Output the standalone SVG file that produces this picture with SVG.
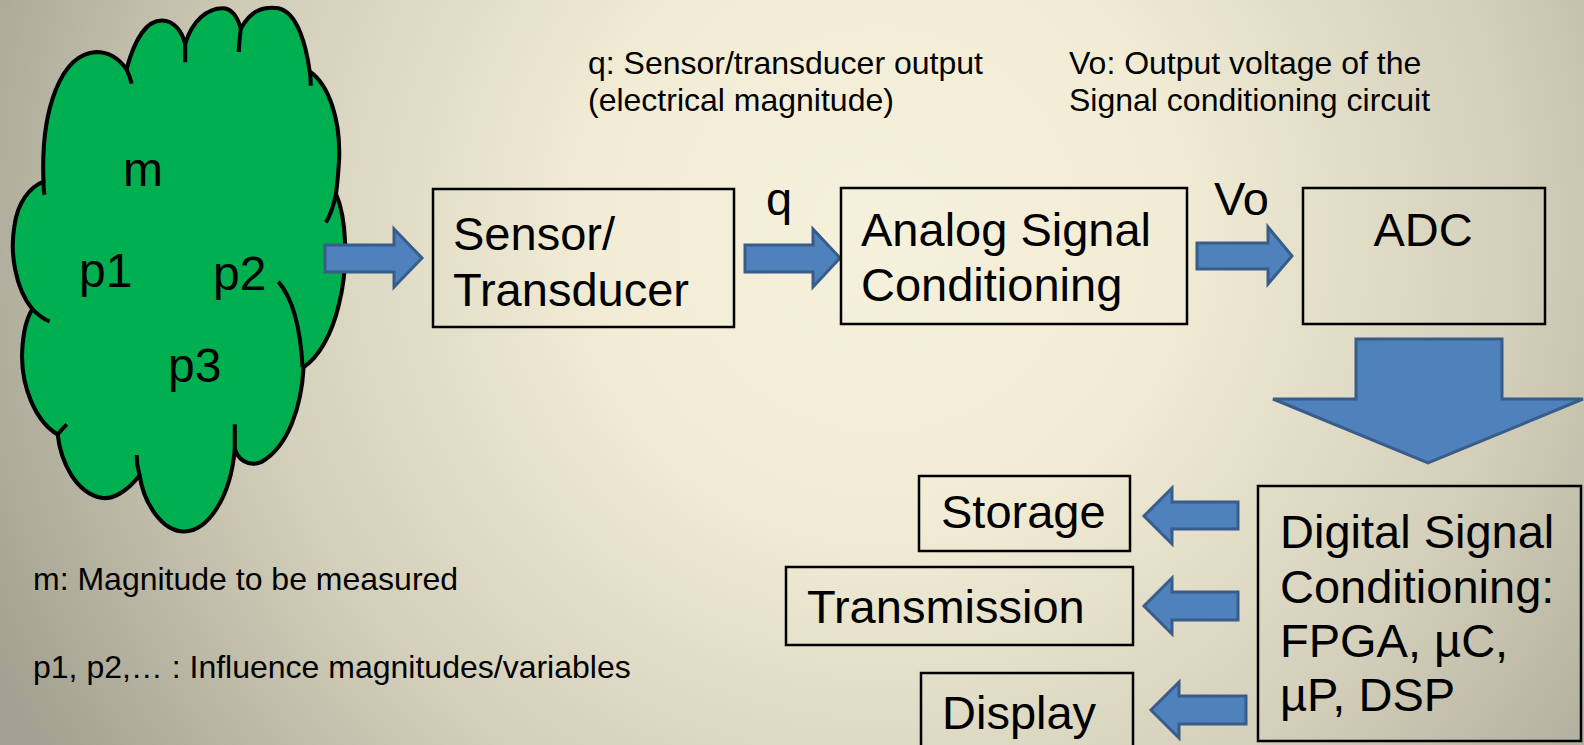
<svg xmlns="http://www.w3.org/2000/svg" width="1584" height="745" viewBox="0 0 1584 745">
<defs>
<radialGradient id="bg" gradientUnits="userSpaceOnUse" cx="880" cy="230" r="980">
<stop offset="0" stop-color="#f6f1dc"/>
<stop offset="0.3" stop-color="#f2ecd5"/>
<stop offset="0.65" stop-color="#d3cfba"/>
<stop offset="1" stop-color="#a3a191"/>
</radialGradient>
<style>
.t{font-family:"Liberation Sans",Arial,sans-serif;fill:#000}
.big{font-size:47px}
.cbig{font-size:48px}
.sm{font-size:32px}
.box{fill:none;stroke:#000;stroke-width:2.5}
.arr{fill:#4f81bd;stroke:#385d8a;stroke-width:3;stroke-linejoin:miter}
.cl{fill:#00b050;stroke:#000;stroke-width:4;stroke-linejoin:round}
.tail{fill:none;stroke:#000;stroke-width:4;stroke-linecap:butt}
</style>
</defs>
<rect x="0" y="0" width="1584" height="745" fill="url(#bg)"/>

<g id="cloud">
<g transform="matrix(1.012,0,0,1.02,0,-2)">
<path class="cl" d="M43,180 C40,110 60,55 95,53 C108,53 118,60 125,70 C133,40 145,22 160,22 C172,22 180,33 183,45 C190,22 205,10 220,10 C230,10 235,20 238,30 C248,12 260,8 275,10 C295,14 303,50 306,72 C325,85 337,120 335,160 C334,175 333,185 332,192 C342,215 345,260 335,300 C328,330 315,352 300,362 C298,400 285,440 258,455 C245,460 235,452 232,442 C228,490 205,523 182,523 C160,523 142,495 138,468 C125,485 110,492 100,490 C75,485 60,455 57,428 C35,415 20,380 22,345 C23,325 27,313 32,305 C15,285 10,250 14,225 C17,200 30,185 43,180 Z"/>
<path class="tail" d="M43,180 C43,185 43,189 44,193"/>
<path class="tail" d="M125,70 C127,74 129,79 130,84"/>
<path class="tail" d="M183,45 C183,51 183,57 183,63"/>
<path class="tail" d="M238,30 C237,38 236,46 236,53"/>
<path class="tail" d="M306,72 C307,76 307,81 307,86"/>
<path class="tail" d="M332,192 C330,202 327,212 322,220"/>
<path class="tail" d="M275,278 C290,295 297,325 299,362"/>
<path class="tail" d="M232,442 C232,434 232,426 232,418"/>
<path class="tail" d="M138,468 C136,461 135,455 135,448"/>
<path class="tail" d="M57,428 C60,424 63,421 66,418"/>
<path class="tail" d="M32,305 C38,311 43,315 49,317"/>
</g>
<text class="t cbig" x="123" y="186">m</text>
<text class="t cbig" x="79" y="287">p1</text>
<text class="t cbig" x="213" y="290">p2</text>
<text class="t cbig" x="168" y="382">p3</text>
</g>

<g id="connectors">
<polygon class="arr" points="325,245 394,245 394,229 422,258 394,287 394,272 325,272"/>
<polygon class="arr" points="745,245 813,245 813,229 840,258 813,287 813,272 745,272"/>
<polygon class="arr" points="1197,243 1268,243 1268,227 1292,256 1268,284 1268,269 1197,269"/>
<polygon class="arr" points="1356,339 1502,339 1502,399 1583,399 1428,463 1273,399 1356,399"/>
<polygon class="arr" points="1238,502 1172,502 1172,488 1144,516 1172,544 1172,529 1238,529"/>
<polygon class="arr" points="1238,592 1172,592 1172,578 1144,606 1172,634 1172,620 1238,620"/>
<polygon class="arr" points="1246,696 1179,696 1179,682 1151,710 1179,738 1179,724 1246,724"/>
<text class="t big" x="766" y="215">q</text>
<text class="t big" x="1214" y="215">Vo</text>
</g>

<g id="sensor">
<rect class="box" x="433" y="189" width="301" height="138"/>
<text class="t big" x="453" y="250">Sensor/</text>
<text class="t big" x="453" y="306">Transducer</text>
</g>

<g id="analog">
<rect class="box" x="841" y="188" width="346" height="136"/>
<text class="t big" x="861" y="246">Analog Signal</text>
<text class="t big" x="861" y="301">Conditioning</text>
</g>

<g id="adc">
<rect class="box" x="1303" y="188" width="242" height="136"/>
<text class="t big" x="1423" y="246" text-anchor="middle">ADC</text>
</g>

<g id="digital">
<rect class="box" x="1258" y="486" width="323" height="255"/>
<text class="t big" x="1280" y="548">Digital Signal</text>
<text class="t big" x="1280" y="603">Conditioning:</text>
<text class="t big" x="1280" y="657">FPGA, µC,</text>
<text class="t big" x="1280" y="711">µP, DSP</text>
</g>

<g id="storage">
<rect class="box" x="919" y="476" width="211" height="75"/>
<text class="t big" x="941" y="528">Storage</text>
</g>

<g id="transmission">
<rect class="box" x="786" y="567" width="347" height="78"/>
<text class="t big" x="807" y="623">Transmission</text>
</g>

<g id="display">
<rect class="box" x="921" y="673" width="212" height="80"/>
<text class="t big" x="942" y="729">Display</text>
</g>

<g id="notes">
<text class="t sm" x="588" y="74">q: Sensor/transducer output</text>
<text class="t sm" x="588" y="111">(electrical magnitude)</text>
<text class="t sm" x="1069" y="74">Vo: Output voltage of the</text>
<text class="t sm" x="1069" y="111">Signal conditioning circuit</text>
<text class="t sm" x="33" y="590">m: Magnitude to be measured</text>
<text class="t sm" x="33" y="678">p1, p2,… : Influence magnitudes/variables</text>
</g>
</svg>
